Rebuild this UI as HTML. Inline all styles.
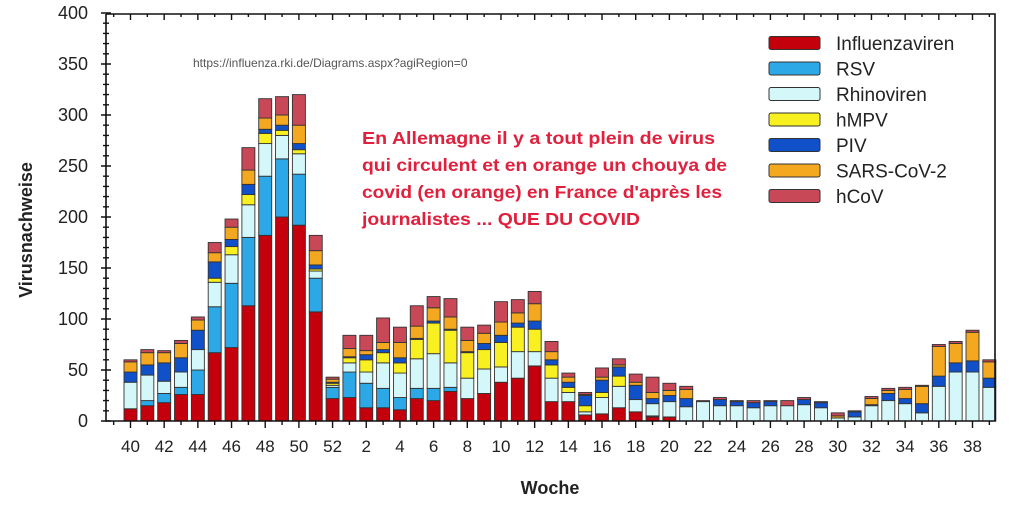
<!DOCTYPE html>
<html><head><meta charset="utf-8"><style>
html,body{margin:0;padding:0;background:#fff;width:1024px;height:510px;overflow:hidden}
svg text{font-family:"Liberation Sans",Arial,sans-serif}
</style></head><body>
<svg id="s" width="1024" height="510" xmlns="http://www.w3.org/2000/svg">
<rect width="1024" height="510" fill="#fff"/>
<g id="bars"></g>
<g id="ax" stroke="#111" stroke-width="1.6" fill="none"></g>
<g font-size="18" fill="#222" text-anchor="end" id="yl"></g>
<g font-size="17" fill="#222" text-anchor="middle" id="xl"></g>
<text x="550" y="494" font-size="18" font-weight="bold" text-anchor="middle" fill="#222">Woche</text>
<text transform="translate(32,230) rotate(-90)" font-size="18" font-weight="bold" text-anchor="middle" fill="#222">Virusnachweise</text>
<text x="193" y="67" font-size="12" fill="#555">https://influenza.rki.de/Diagrams.aspx?agiRegion=0</text>
<g font-size="17.5" font-weight="bold" fill="#e0203c" style="font-family:'Liberation Sans',sans-serif">
<text x="362" y="144" textLength="353" lengthAdjust="spacingAndGlyphs">En Allemagne il y a tout plein de virus</text>
<text x="362" y="171" textLength="365" lengthAdjust="spacingAndGlyphs">qui circulent et en orange un chouya de</text>
<text x="362" y="198" textLength="360" lengthAdjust="spacingAndGlyphs">covid  (en orange) en France d'après les</text>
<text x="362" y="225" textLength="278" lengthAdjust="spacingAndGlyphs">journalistes ... QUE DU COVID</text>
</g>
<g id="leg" font-size="19" fill="#222"></g>
</svg>
<script>
var C=["#c4000c","#2ca8e6","#d4f8fa","#f8f020","#1050c8","#f4a820","#c84858"];
var D=[
[12,12,38,38,48,58,60],[15,20,45,45,55,67,70],[18,27,39,39,57,67,69],[26,33,48,48,62,76,79],[26,50,70,70,89,99,102],
[67,112,136,140,156,165,175],[72,135,163,171,178,190,198],[113,180,212,222,232,246,268],[182,240,272,282,286,297,316],
[200,257,280,285,290,300,318],[192,242,262,266,272,290,320],[107,140,147,149,153,167,182],[22,33,35,37,38,41,43],
[23,48,57,62,63,71,84],[13,37,48,60,65,69,84],[13,32,57,67,70,77,101],[11,23,47,57,62,77,92],[22,32,61,80,81,93,113],
[20,32,66,96,98,111,122],[29,33,57,89,90,102,120],[22,22,42,67,68,79,92],[27,27,51,70,76,86,94],[38,38,53,77,84,97,117],
[42,42,68,92,96,106,119],[54,54,68,90,98,115,127],[19,19,42,55,60,68,78],[19,19,28,33,38,43,47],[6,6,9,15,25,26,28],
[7,7,23,28,40,43,52],[13,13,34,44,53,55,61],[9,9,21,21,35,38,46],[4,5,17,17,22,28,43],[4,4,19,19,25,30,37],
[0,0,14,14,22,31,34],[0,0,19,19,19,19,20],[0,0,15,15,21,21,23],[0,0,15,15,19,19,20],[0,0,13,13,18,16,20],
[0,0,15,15,19,19,20],[0,0,15,15,15,15,20],[0,0,16,16,21,21,23],[0,0,13,13,18,18,19],[0,0,3,3,3,5,8],
[0,0,4,4,9,9,10],[0,0,15,15,16,22,24],[0,0,20,20,27,30,32],[0,0,17,17,22,31,33],[0,0,8,8,17,34,35],
[0,0,34,34,44,73,75],[0,0,48,48,57,76,78],[0,0,48,48,59,87,89],[0,0,33,33,42,58,60]];
var ns="http://www.w3.org/2000/svg";
function el(p,t,a,txt){var e=document.createElementNS(ns,t);for(var k in a)e.setAttribute(k,a[k]);if(txt!=null)e.textContent=txt;document.getElementById(p).appendChild(e);return e;}
var Y0=421,K=1.02,X0=130.5,DX=16.84,W=13;
function Y(v){return Y0-v*K;}
D.forEach(function(d,i){var x=X0+i*DX-W/2,prev=0;
for(var j=0;j<7;j++){var v=Math.max(d[j],prev);if(v>prev){el("bars","rect",{x:x,y:Y(v),width:W,height:(v-prev)*K,fill:C[j],stroke:"#333","stroke-width":0.9});}prev=v;}});
el("ax","path",{d:"M106 14V421H995V14H106"});
var t="";
for(var v=0;v<=400;v+=10){var y=Y(v);var L=(v%50==0)?5:3;t+="M"+(106-L)+" "+y+"H"+(106+L);}
for(var i=-1;i<53;i++){var x=X0+i*DX;if(x<106||x>995)continue;t+="M"+x+" 421V"+(i%2==0?428:425)+"M"+x+" 14V"+(i%2==0?20:17);}
el("ax","path",{d:t,"stroke-width":1.4});
for(var v=0;v<=400;v+=50)el("yl","text",{x:88,y:Y(v)+6},v);
var wk=[];for(var w=40;w<=52;w++)wk.push(w);for(var w=1;w<=39;w++)wk.push(w);
wk.forEach(function(w,i){if(w%2==0)el("xl","text",{x:X0+i*DX,y:452},w);});
var names=["Influenzaviren","RSV","Rhinoviren","hMPV","PIV","SARS-CoV-2","hCoV"];
names.forEach(function(n,i){var y=43+i*25.5;el("leg","rect",{x:769,y:y-6.5,width:51,height:13,rx:2,fill:C[i],stroke:"#333","stroke-width":1});
el("leg","text",{x:836,y:y+7},n);});
</script>
</body></html>
